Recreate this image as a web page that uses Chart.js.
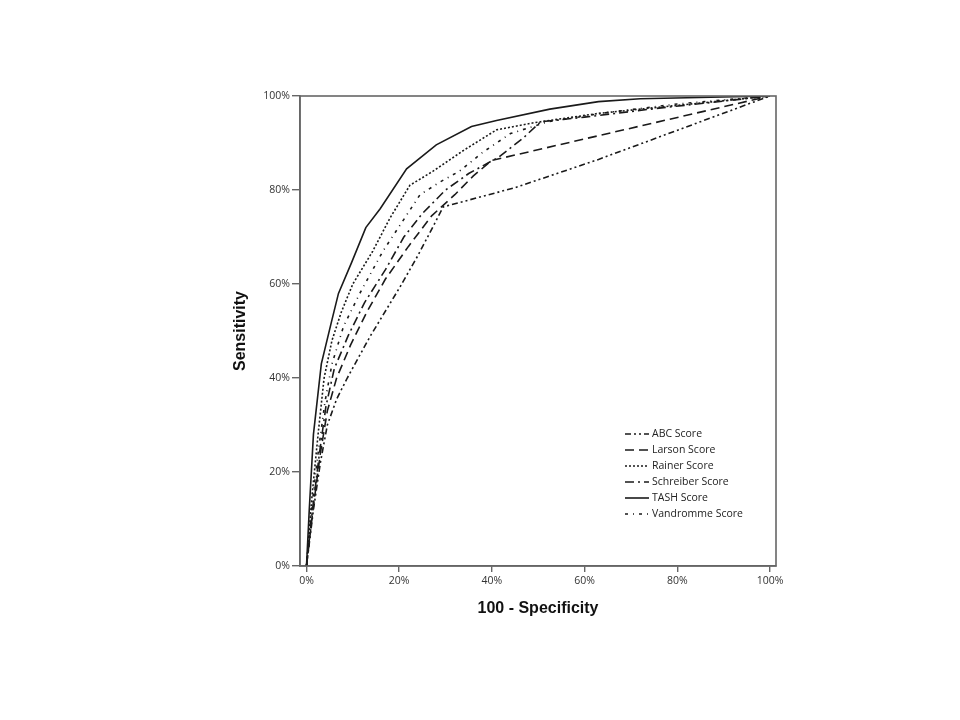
<!DOCTYPE html>
<html lang="en">
<head>
  <meta charset="UTF-8">
  <title>ROC Curves</title>
  <style>
    body { margin: 0; background: #fff; }
    #roc { display: block; }
  </style>
</head>
<body>
  <canvas id="roc" width="960" height="720"></canvas>

  <script src="https://cdn.jsdelivr.net/npm/chart.js"></script>
  <script>
    // tick values
    const xTicks = [0, 20, 40, 60, 80, 100];
    const yTicks = [0, 20, 40, 60, 80, 100];

    // series ([100 - specificity, sensitivity] in %)
    const abcX = [0, 1.5, 3, 4.5, 6.5, 8.8, 13.7, 20.2, 24, 27.3, 29.5, 45, 63, 100];
    const abcY = [0, 12, 22, 30, 35.5, 40, 48.8, 59.4, 66, 72.2, 76.4, 80.5, 86.5, 100];

    const larsonX = [0, 1.4, 3, 4.5, 6.5, 9.5, 13, 17, 22, 27, 32, 36, 40, 100];
    const larsonY = [0, 12, 24, 33, 40, 47, 54, 61, 68, 74.5, 79, 83, 86.3, 100];

    const rainerX = [0, 1.2, 2.5, 3.8, 5.5, 7.5, 10, 14.3, 18, 22.3, 27.3, 34, 41, 49, 63, 85, 100];
    const rainerY = [0, 15, 28, 40, 48, 54, 60, 67, 74, 81, 84, 88.5, 92.8, 94.3, 96.3, 98.5, 100];

    const schreiberX = [0, 1.3, 2.8, 4.2, 6, 9, 12.5, 17, 21, 25, 30, 35, 41.5, 46.7, 50.5, 60, 75, 100];
    const schreiberY = [0, 12, 24, 34, 42, 49, 56, 63, 70, 75, 80, 83.5, 87, 91, 94.5, 95.5, 97.3, 100];

    const tashX = [0, 0.6, 1.5, 3.2, 5.4, 6.9, 9.7, 12.8, 15.9, 21.6, 28, 35.6, 41, 52.5, 63, 72, 100];
    const tashY = [0, 12, 28, 43, 52, 58, 64.5, 72, 76, 84.5, 89.6, 93.5, 94.8, 97.2, 98.8, 99.4, 100];

    const vandrommeX = [0, 1.2, 2.5, 4, 5.5, 8, 11.5, 16.5, 19.5, 24.5, 28.8, 33, 38, 44, 52, 65, 80, 100];
    const vandrommeY = [0, 13, 24, 35, 43, 51, 58, 67, 71.5, 79, 81.7, 84, 88, 92, 94.5, 96.5, 98.3, 100];

    function toPoints(xs, ys) {
      return xs.map((x, i) => ({ x: x, y: ys[i] }));
    }

    function series(label, xs, ys, dash) {
      return {
        label: label,
        data: toPoints(xs, ys),
        borderColor: '#1a1a1a',
        borderWidth: 1.6,
        borderDash: dash,
        pointRadius: 0,
        tension: 0,
        fill: false
      };
    }

    // draws the box round the plot and the legend inside it
    const frameAndLegend = {
      id: 'frameAndLegend',
      afterDraw(chart) {
        const c = chart.ctx;
        const a = chart.chartArea;
        c.save();
        c.strokeStyle = '#666';
        c.lineWidth = 1.6;
        c.strokeRect(a.left, a.top, a.right - a.left, a.bottom - a.top);

        c.font = '10.5px "Open Sans", sans-serif';
        c.fillStyle = '#222';
        c.textBaseline = 'middle';
        chart.data.datasets.forEach((ds, i) => {
          const y = 434 + i * 16;
          c.beginPath();
          c.setLineDash(ds.borderDash);
          c.strokeStyle = '#1a1a1a';
          c.lineWidth = 1.6;
          c.moveTo(625, y);
          c.lineTo(649, y);
          c.stroke();
          c.setLineDash([]);
          c.fillText(ds.label, 652, y);
        });
        c.restore();
      }
    };

    const ctx = document.getElementById('roc').getContext('2d');
    new Chart(ctx, {
      type: 'line',
      data: {
        datasets: [
          series('ABC Score', abcX, abcY, [6, 3, 2, 3, 2, 3]),
          series('Larson Score', larsonX, larsonY, [9, 5]),
          series('Rainer Score', rainerX, rainerY, [2, 2]),
          series('Schreiber Score', schreiberX, schreiberY, [9, 4, 2, 4]),
          series('TASH Score', tashX, tashY, []),
          series('Vandromme Score', vandrommeX, vandrommeY, [3, 5, 1, 5])
        ]
      },
      options: {
        responsive: false,
        animation: false,
        layout: { padding: { left: 200, right: 184, top: 96, bottom: 54 } },
        plugins: {
          legend: { display: false },
          tooltip: { enabled: false }
        },
        scales: {
          x: {
            type: 'linear',
            min: -1.4,
            max: 101.3,
            afterBuildTicks: s => { s.ticks = xTicks.map(v => ({ value: v })); },
            afterFit: s => { s.height = 100; },
            grid: { display: true, drawOnChartArea: false, drawTicks: true, tickLength: 6, color: '#666', lineWidth: 1.4 },
            border: { display: true, color: '#666', width: 1.6 },
            ticks: {
              autoSkip: false,
              maxRotation: 0,
              padding: 3,
              color: '#333',
              font: { family: '"Open Sans", sans-serif', size: 10.5 },
              callback: v => v + '%'
            },
            title: {
              display: true,
              text: '100 - Specificity',
              color: '#111',
              font: { family: '"Liberation Sans", Arial, sans-serif', size: 16, weight: 'bold' },
              padding: { top: 0, bottom: 48 }
            }
          },
          y: {
            type: 'linear',
            min: 0,
            max: 100,
            afterBuildTicks: s => { s.ticks = yTicks.map(v => ({ value: v })); },
            afterFit: s => { s.width = 100; },
            grid: { display: true, drawOnChartArea: false, drawTicks: true, tickLength: 8, color: '#666', lineWidth: 1.4 },
            border: { display: true, color: '#666', width: 1.6 },
            ticks: {
              autoSkip: false,
              padding: 2,
              color: '#333',
              font: { family: '"Open Sans", sans-serif', size: 10.5 },
              callback: v => v + '%'
            },
            title: {
              display: true,
              text: 'Sensitivity',
              color: '#111',
              font: { family: '"Liberation Sans", Arial, sans-serif', size: 16, weight: 'bold' },
              padding: { top: 31, bottom: 0 }
            }
          }
        }
      },
      plugins: [frameAndLegend]
    });
  </script>
</body>
</html>
